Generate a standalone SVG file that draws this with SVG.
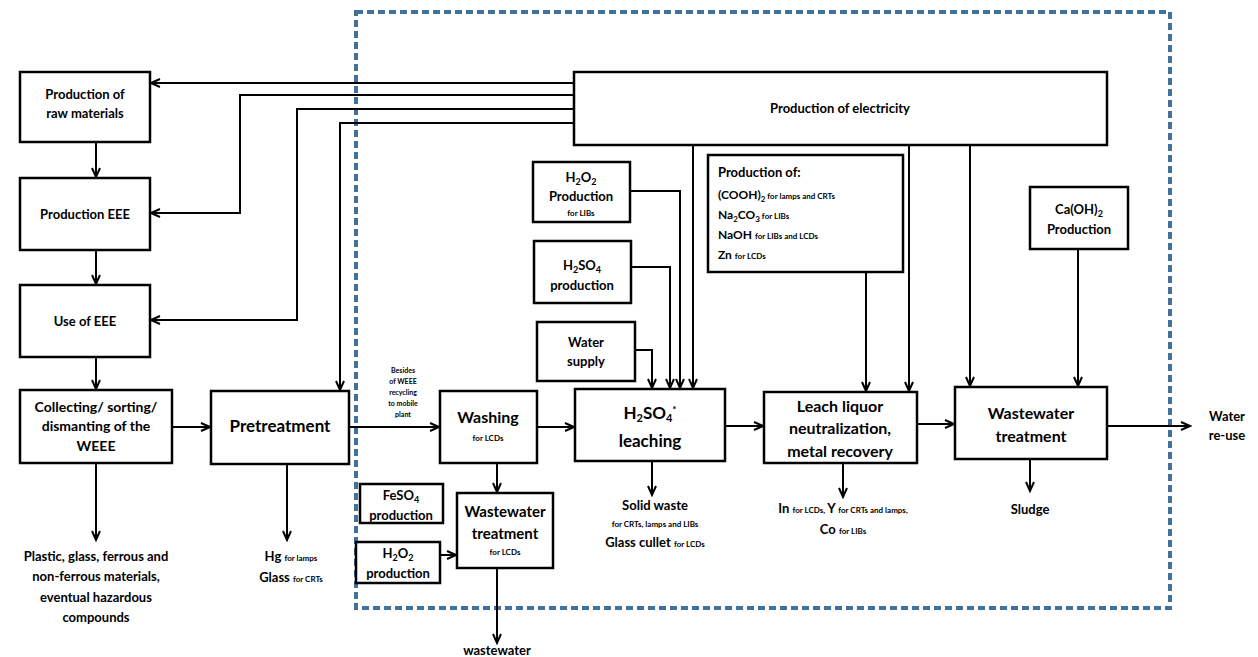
<svg xmlns="http://www.w3.org/2000/svg" width="1258" height="657" viewBox="0 0 1258 657">
  <defs>
    <marker id="ah" markerUnits="userSpaceOnUse" markerWidth="12" markerHeight="12" refX="10" refY="5" orient="auto">
      <path d="M1,1 L10,5 L1,9" fill="none" stroke="#000" stroke-width="2"/>
    </marker>
    <style>
      .box { fill: #fff; stroke: #000; stroke-width: 2.5; }
      .ln { fill: none; stroke: #000; stroke-width: 2; }
      .ar { fill: none; stroke: #000; stroke-width: 2; marker-end: url(#ah); }
      .t { font-family: Lato, "Liberation Sans", sans-serif; font-weight: bold; fill: #000; text-anchor: middle; }
      .l { text-anchor: start; }
      .s { font-size: 8px; }
      .frame { fill: none; stroke: #41719c; stroke-width: 4; stroke-dasharray: 7 4; }
    </style>
  </defs>

  <rect width="1258" height="657" fill="#fff"/>

  <!-- system boundary -->
  <rect class="frame" x="356" y="12" width="814" height="596"/>

  <!-- connectors -->
  <g id="connectors">
    <path class="ar" d="M574,83 H151"/>
    <path class="ar" d="M574,95 H240 V213 H151"/>
    <path class="ar" d="M574,109 H297 V320 H151"/>
    <path class="ar" d="M574,123 H340 V390"/>
    <path class="ar" d="M96,142 V177"/>
    <path class="ar" d="M96,250 V284"/>
    <path class="ar" d="M96,357 V389"/>
    <path class="ar" d="M172,427 H210"/>
    <path class="ar" d="M96,463 V540"/>
    <path class="ar" d="M287,464 V540"/>
    <path class="ar" d="M349,427 H439"/>
    <path class="ar" d="M537,427 H574"/>
    <path class="ar" d="M497,463 V492"/>
    <path class="ar" d="M440,555 H456"/>
    <path class="ar" d="M497,568 V643"/>
    <path class="ar" d="M630,191 H680 V388"/>
    <path class="ar" d="M631,267 H670 V388"/>
    <path class="ar" d="M635,350 H652 V388"/>
    <path class="ar" d="M693,145 V388"/>
    <path class="ar" d="M652,461 V495"/>
    <path class="ar" d="M725,426 H763"/>
    <path class="ar" d="M866,272 V391"/>
    <path class="ar" d="M909,145 V391"/>
    <path class="ar" d="M843,463 V497"/>
    <path class="ar" d="M917,424 H954"/>
    <path class="ar" d="M970,145 V386"/>
    <path class="ar" d="M1078,249 V386"/>
    <path class="ar" d="M1030,459 V491"/>
    <path class="ar" d="M1107,426 H1190"/>
  </g>

  <g id="raw-materials">
    <rect class="box" x="20" y="72" width="130" height="70"/>
    <text class="t" x="85" y="99" font-size="13">Production of</text>
    <text class="t" x="85" y="118" font-size="13">raw materials</text>
  </g>

  <g id="production-eee">
    <rect class="box" x="20" y="178" width="130" height="72"/>
    <text class="t" x="85" y="219" font-size="13">Production EEE</text>
  </g>

  <g id="use-eee">
    <rect class="box" x="20" y="285" width="130" height="72"/>
    <text class="t" x="85" y="326" font-size="13">Use of EEE</text>
  </g>

  <g id="collecting">
    <rect class="box" x="20" y="390" width="152" height="73"/>
    <text class="t" x="96" y="412" font-size="14">Collecting/ sorting/</text>
    <text class="t" x="96" y="431" font-size="14">dismanting of the</text>
    <text class="t" x="96" y="451" font-size="14">WEEE</text>
  </g>

  <g id="collecting-output">
    <text class="t" x="96" y="561" font-size="13">Plastic, glass, ferrous and</text>
    <text class="t" x="96" y="581" font-size="13">non-ferrous materials,</text>
    <text class="t" x="96" y="602" font-size="13">eventual hazardous</text>
    <text class="t" x="96" y="622" font-size="13">compounds</text>
  </g>

  <g id="pretreatment">
    <rect class="box" x="211" y="391" width="138" height="73"/>
    <text class="t" x="280" y="432" font-size="17">Pretreatment</text>
  </g>

  <g id="pretreatment-output">
    <text class="t" x="291" y="561" font-size="13">Hg <tspan class="s">for lamps</tspan></text>
    <text class="t" x="291" y="582" font-size="13">Glass <tspan class="s">for CRTs</tspan></text>
  </g>

  <g id="mobile-note">
    <text class="t" x="403" y="373" font-size="7">Besides</text>
    <text class="t" x="403" y="384" font-size="7">of WEEE</text>
    <text class="t" x="403" y="395" font-size="7">recycling</text>
    <text class="t" x="403" y="406" font-size="7">to mobile</text>
    <text class="t" x="403" y="417" font-size="7">plant</text>
  </g>

  <g id="washing">
    <rect class="box" x="440" y="391" width="97" height="72"/>
    <text class="t" x="488" y="423" font-size="16">Washing</text>
    <text class="t s" x="488" y="441">for LCDs</text>
  </g>

  <g id="feso4">
    <rect class="box" x="360" y="484" width="83" height="39"/>
    <text class="t" x="401" y="500" font-size="13">FeSO<tspan dy="3" font-size="9">4</tspan></text>
    <text class="t" x="401" y="520" font-size="13">production</text>
  </g>

  <g id="h2o2-lcd">
    <rect class="box" x="356" y="542" width="84" height="41"/>
    <text class="t" x="398" y="558" font-size="13">H<tspan dy="3" font-size="9">2</tspan><tspan dy="-3">O</tspan><tspan dy="3" font-size="9">2</tspan></text>
    <text class="t" x="398" y="578" font-size="13">production</text>
  </g>

  <g id="wwt-lcd">
    <rect class="box" x="457" y="493" width="96" height="75"/>
    <text class="t" x="505" y="517" font-size="15">Wastewater</text>
    <text class="t" x="505" y="539" font-size="15">treatment</text>
    <text class="t s" x="505" y="555">for LCDs</text>
  </g>

  <g id="wastewater-out">
    <text class="t" x="497" y="655" font-size="13">wastewater</text>
  </g>

  <g id="electricity">
    <rect class="box" x="574" y="72" width="533" height="73"/>
    <text class="t" x="840" y="113" font-size="13">Production of electricity</text>
  </g>

  <g id="h2o2-lib">
    <rect class="box" x="533" y="162" width="97" height="60"/>
    <text class="t" x="581" y="182" font-size="13">H<tspan dy="3" font-size="9">2</tspan><tspan dy="-3">O</tspan><tspan dy="3" font-size="9">2</tspan></text>
    <text class="t" x="581" y="201" font-size="13">Production</text>
    <text class="t s" x="581" y="216">for LIBs</text>
  </g>

  <g id="h2so4-prod">
    <rect class="box" x="534" y="241" width="97" height="62"/>
    <text class="t" x="582" y="270" font-size="13">H<tspan dy="3" font-size="9">2</tspan><tspan dy="-3">SO</tspan><tspan dy="3" font-size="9">4</tspan></text>
    <text class="t" x="582" y="290" font-size="13">production</text>
  </g>

  <g id="water-supply">
    <rect class="box" x="537" y="322" width="98" height="59"/>
    <text class="t" x="586" y="347" font-size="13">Water</text>
    <text class="t" x="586" y="366" font-size="13">supply</text>
  </g>

  <g id="leaching">
    <rect class="box" x="575" y="389" width="150" height="72"/>
    <text class="t" x="650" y="419" font-size="17">H<tspan dy="3" font-size="11">2</tspan><tspan dy="-3">SO</tspan><tspan dy="3" font-size="11">4</tspan><tspan dy="-9" font-size="10">*</tspan></text>
    <text class="t" x="650" y="447" font-size="17">leaching</text>
  </g>

  <g id="leaching-output">
    <text class="t" x="655" y="510" font-size="13">Solid waste</text>
    <text class="t s" x="655" y="527">for CRTs, lamps and LIBs</text>
    <text class="t" x="655" y="547" font-size="13">Glass cullet <tspan class="s">for LCDs</tspan></text>
  </g>

  <g id="reagents">
    <rect class="box" x="708" y="155" width="195" height="117"/>
    <text class="t l" x="718" y="177" font-size="13">Production of:</text>
    <text class="t l" x="718" y="199" font-size="12">(COOH)<tspan dy="3" font-size="8">2</tspan><tspan dy="-3" class="s">  for lamps and CRTs</tspan></text>
    <text class="t l" x="718" y="219" font-size="12">Na<tspan dy="3" font-size="8">2</tspan><tspan dy="-3">CO</tspan><tspan dy="3" font-size="8">3</tspan><tspan dy="-3" class="s"> for LIBs</tspan></text>
    <text class="t l" x="718" y="239" font-size="12">NaOH <tspan class="s">for LIBs and LCDs</tspan></text>
    <text class="t l" x="718" y="259" font-size="12">Zn <tspan class="s">for LCDs</tspan></text>
  </g>

  <g id="leach-liquor">
    <rect class="box" x="764" y="392" width="153" height="71"/>
    <text class="t" x="840" y="412" font-size="16">Leach liquor</text>
    <text class="t" x="840" y="434" font-size="16">neutralization,</text>
    <text class="t" x="840" y="457" font-size="16">metal recovery</text>
  </g>

  <g id="metals-output">
    <text class="t" x="843" y="513" font-size="13">In <tspan class="s">for LCDs, </tspan>Y <tspan class="s">for CRTs and lamps,</tspan></text>
    <text class="t" x="843" y="534" font-size="13">Co <tspan class="s">for LIBs</tspan></text>
  </g>

  <g id="caoh2">
    <rect class="box" x="1030" y="187" width="98" height="62"/>
    <text class="t" x="1079" y="214" font-size="13">Ca(OH)<tspan dy="3" font-size="9">2</tspan></text>
    <text class="t" x="1079" y="234" font-size="13">Production</text>
  </g>

  <g id="wwt">
    <rect class="box" x="955" y="387" width="152" height="72"/>
    <text class="t" x="1031" y="419" font-size="16">Wastewater</text>
    <text class="t" x="1031" y="442" font-size="16">treatment</text>
  </g>

  <g id="sludge">
    <text class="t" x="1030" y="514" font-size="13">Sludge</text>
  </g>

  <g id="water-reuse">
    <text class="t" x="1227" y="421" font-size="13">Water</text>
    <text class="t" x="1227" y="440" font-size="13">re-use</text>
  </g>
</svg>
